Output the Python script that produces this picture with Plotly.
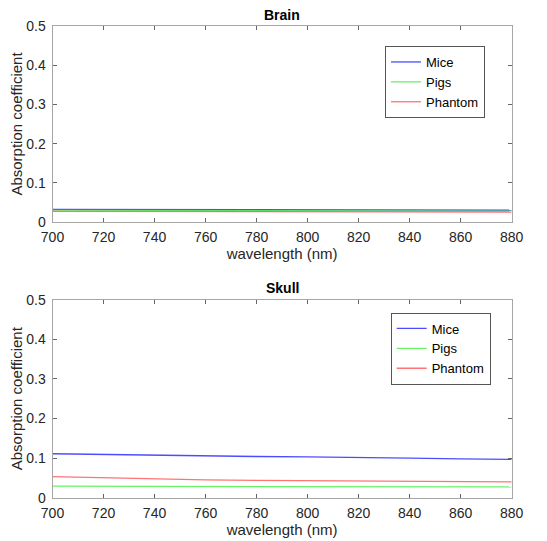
import plotly.graph_objects as go

wavelength = [700, 720, 740, 760, 780, 800, 820, 840, 860, 880]

brain_mice = [0.033, 0.0327, 0.0324, 0.0321, 0.0318, 0.0315, 0.0313, 0.0311, 0.031, 0.0309]
brain_pigs = [0.031, 0.0305, 0.0301, 0.0298, 0.0295, 0.0292, 0.029, 0.0288, 0.0286, 0.0285]
brain_phantom = [0.028, 0.0277, 0.0274, 0.0272, 0.027, 0.0268, 0.0266, 0.0264, 0.0262, 0.026]

skull_mice = [0.111, 0.109, 0.107, 0.105, 0.104, 0.103, 0.102, 0.1, 0.098, 0.097]
skull_pigs = [0.029, 0.0288, 0.0286, 0.0284, 0.0282, 0.028, 0.0278, 0.0276, 0.0274, 0.0272]
skull_phantom = [0.053, 0.05, 0.047, 0.045, 0.044, 0.043, 0.042, 0.041, 0.040, 0.040]

series_names = ["Mice", "Pigs", "Phantom"]
colors = ["rgba(0,0,255,0.7)", "rgba(0,235,0,0.6)", "rgba(255,0,0,0.55)"]

x_ticks = [700, 720, 740, 760, 780, 800, 820, 840, 860, 880]
y_ticks = [0, 0.1, 0.2, 0.3, 0.4, 0.5]
y_ticktext = ["0", "0.1", "0.2", "0.3", "0.4", "0.5"]

W, H = 547, 541
OFF = 8  # page body margin offset
FONT = "Liberation Sans, Arial, sans-serif"


def px(p):
    return (p - OFF) / W


def py(p):
    return 1 - (p - OFF) / H


fig = go.Figure()

for i, (name, ys) in enumerate(zip(series_names, [brain_mice, brain_pigs, brain_phantom])):
    fig.add_trace(go.Scatter(x=wavelength, y=ys, mode="lines", name=name,
                             line=dict(color=colors[i], width=1.3),
                             xaxis="x", yaxis="y", legend="legend"))
for i, (name, ys) in enumerate(zip(series_names, [skull_mice, skull_pigs, skull_phantom])):
    fig.add_trace(go.Scatter(x=wavelength, y=ys, mode="lines", name=name,
                             line=dict(color=colors[i], width=1.3),
                             xaxis="x2", yaxis="y2", legend="legend2"))

axcol = "#a6a6a6"
txtcol = "#262626"
PL, PR = 52.5, 511.7


def xax(anchor):
    return dict(range=[700, 880], tickvals=x_ticks, ticks="inside", ticklen=4,
                tickcolor="#666666", showline=True, linecolor=axcol, linewidth=1,
                mirror="ticks", showgrid=False, zeroline=False, anchor=anchor,
                domain=[px(PL), px(PR)], automargin=False, ticklabelstandoff=2,
                tickfont=dict(size=14, color=txtcol, family=FONT),
                title=dict(text="wavelength (nm)", font=dict(size=15, color=txtcol, family=FONT), standoff=3))


def yax(anchor, dom):
    return dict(range=[0, 0.5], tickvals=y_ticks, ticktext=y_ticktext, ticks="inside", ticklen=4,
                tickcolor="#666666", showline=True, linecolor=axcol, linewidth=1,
                mirror="ticks", showgrid=False, zeroline=False, anchor=anchor, domain=dom,
                automargin=False, ticklabelstandoff=3,
                tickfont=dict(size=14, color=txtcol, family=FONT),
                title=dict(text="Absorption coefficient", font=dict(size=15, color=txtcol, family=FONT), standoff=1))


legend_common = dict(bordercolor="#555555", borderwidth=1, bgcolor="white",
                     font=dict(size=13, color="black", family=FONT),
                     xanchor="left", yanchor="middle", tracegroupgap=0, itemwidth=30)

fig.update_layout(
    width=W, height=H, margin=dict(l=0, r=0, t=0, b=0, autoexpand=False),
    paper_bgcolor="white", plot_bgcolor="white",
    xaxis=xax("y"), yaxis=yax("x", [py(222.3), py(25.7)]),
    xaxis2=xax("y2"), yaxis2=yax("x2", [py(497.7), py(299.7)]),
    legend=dict(x=px(385), y=py(82), **legend_common),
    legend2=dict(x=px(390.7), y=py(348.5), **legend_common),
    annotations=[
        dict(text="<b>Brain</b>", x=px((PL + PR) / 2), y=py(15), xref="paper", yref="paper",
             showarrow=False, font=dict(size=14, color="black", family=FONT), yanchor="middle"),
        dict(text="<b>Skull</b>", x=px((PL + PR) / 2), y=py(288), xref="paper", yref="paper",
             showarrow=False, font=dict(size=14, color="black", family=FONT), yanchor="middle"),
    ],
)

fig.write_html("out.html")
